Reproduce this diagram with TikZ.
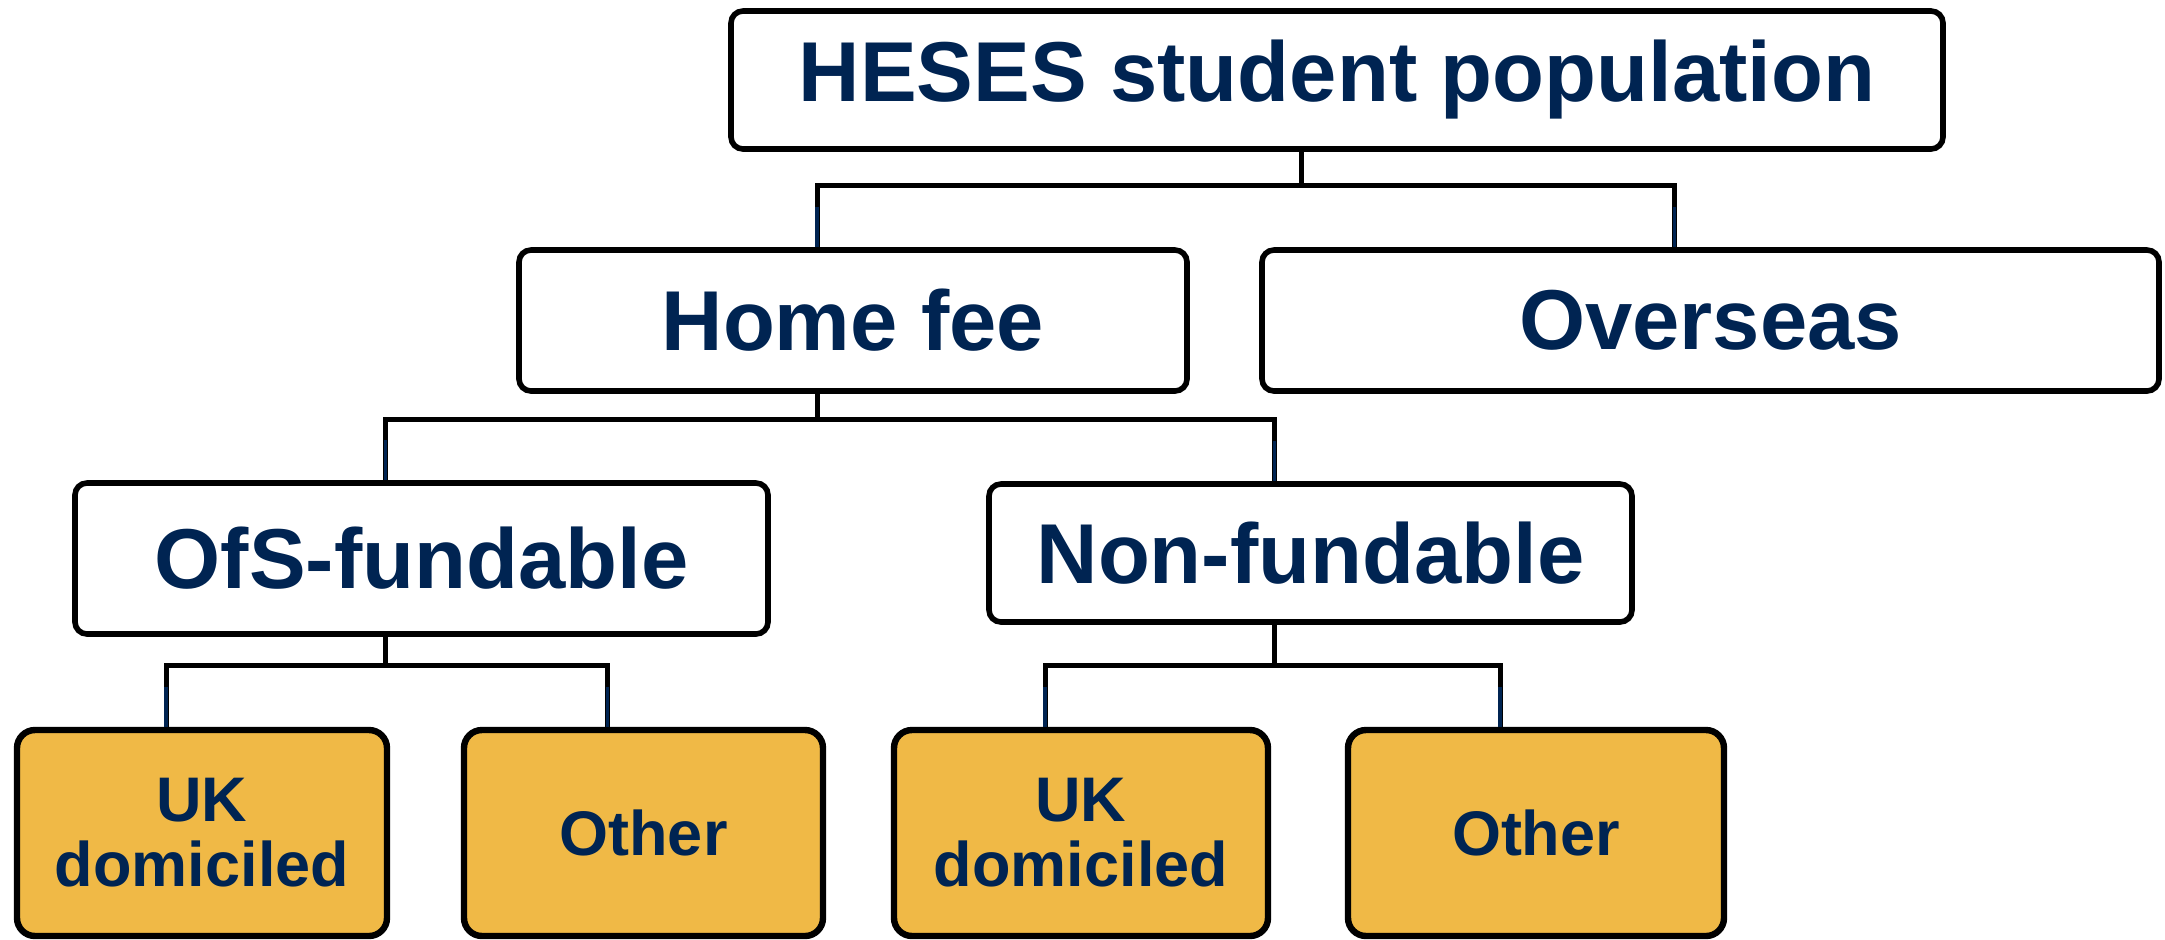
\documentclass[tikz,border=0pt]{standalone}
\usepackage{fontspec}
\setmainfont{Liberation Sans}
\definecolor{navy}{HTML}{002452}
\definecolor{gold}{HTML}{F0B946}
\begin{document}
\begin{tikzpicture}
[x=0.5pt,y=-0.5pt,
topbox/.style={draw,line width=2.8pt,rounded corners=6pt,fill=white,text=navy,inner sep=0pt,font=\fontsize{42.5}{46}\selectfont\bfseries},
leafbox/.style={draw,line width=3.2pt,rounded corners=9pt,fill=gold,text=navy,inner sep=0pt,align=center,minimum height=103pt,font=\fontsize{31.5}{32.5}\selectfont\bfseries},
link/.style={line width=2.5pt},
drop/.style={navy,line width=1.8pt},]

\useasboundingbox (0,0) rectangle (2165,939);

%Connector offset from box centre
\def\off{-18pt}

%Boxes
\node (heses) at (1337,80)[topbox,minimum width=606pt,minimum height=69pt] {HESES student population};
\node (home) at (853,320.5)[topbox,minimum width=334pt,minimum height=70.5pt] {Home fee};
\node (overseas) at (1710.5,320.5)[topbox,minimum width=448.5pt,minimum height=70.5pt] {Overseas};
\node (ofs) at (421.5,558.5)[topbox,minimum width=346.5pt,minimum height=75.5pt] {OfS-fundable};
\node (nonfund) at (1310.5,553)[topbox,minimum width=321.5pt,minimum height=69pt] {Non-fundable};
\node (uk1) at (202,833)[leafbox,minimum width=185pt] {UK\\domiciled};
\node (other1) at (643.5,833)[leafbox,minimum width=179.5pt] {Other};
\node (uk2) at (1081,833)[leafbox,minimum width=187pt] {UK\\domiciled};
\node (other2) at (1536,833)[leafbox,minimum width=188pt] {Other};

%Tree connectors
\draw[link] ([xshift=\off]heses.south) -- ++(0,33.5) coordinate (j1);
\draw[link] ([xshift=\off]home.north) |- (j1) -| ([xshift=\off]overseas.north);
\draw[link] ([xshift=\off]home.south) -- ++(0,25.5) coordinate (j2);
\draw[link] ([xshift=\off]ofs.north) |- (j2) -| ([xshift=\off]nonfund.north);
\draw[link] ([xshift=\off]ofs.south) -- ++(0,28.5) coordinate (j3);
\draw[link] ([xshift=\off]uk1.north) |- (j3) -| ([xshift=\off]other1.north);
\draw[link] ([xshift=\off]nonfund.south) -- ++(0,40.5) coordinate (j4);
\draw[link] ([xshift=\off]uk2.north) |- (j4) -| ([xshift=\off]other2.north);

%Blue ends of the drops
\foreach \n in {home,overseas,ofs,nonfund,uk1,other1,uk2,other2}
  \draw[drop] ([xshift=\off]\n.north) -- ++(0,-40);
\end{tikzpicture}
\end{document}
